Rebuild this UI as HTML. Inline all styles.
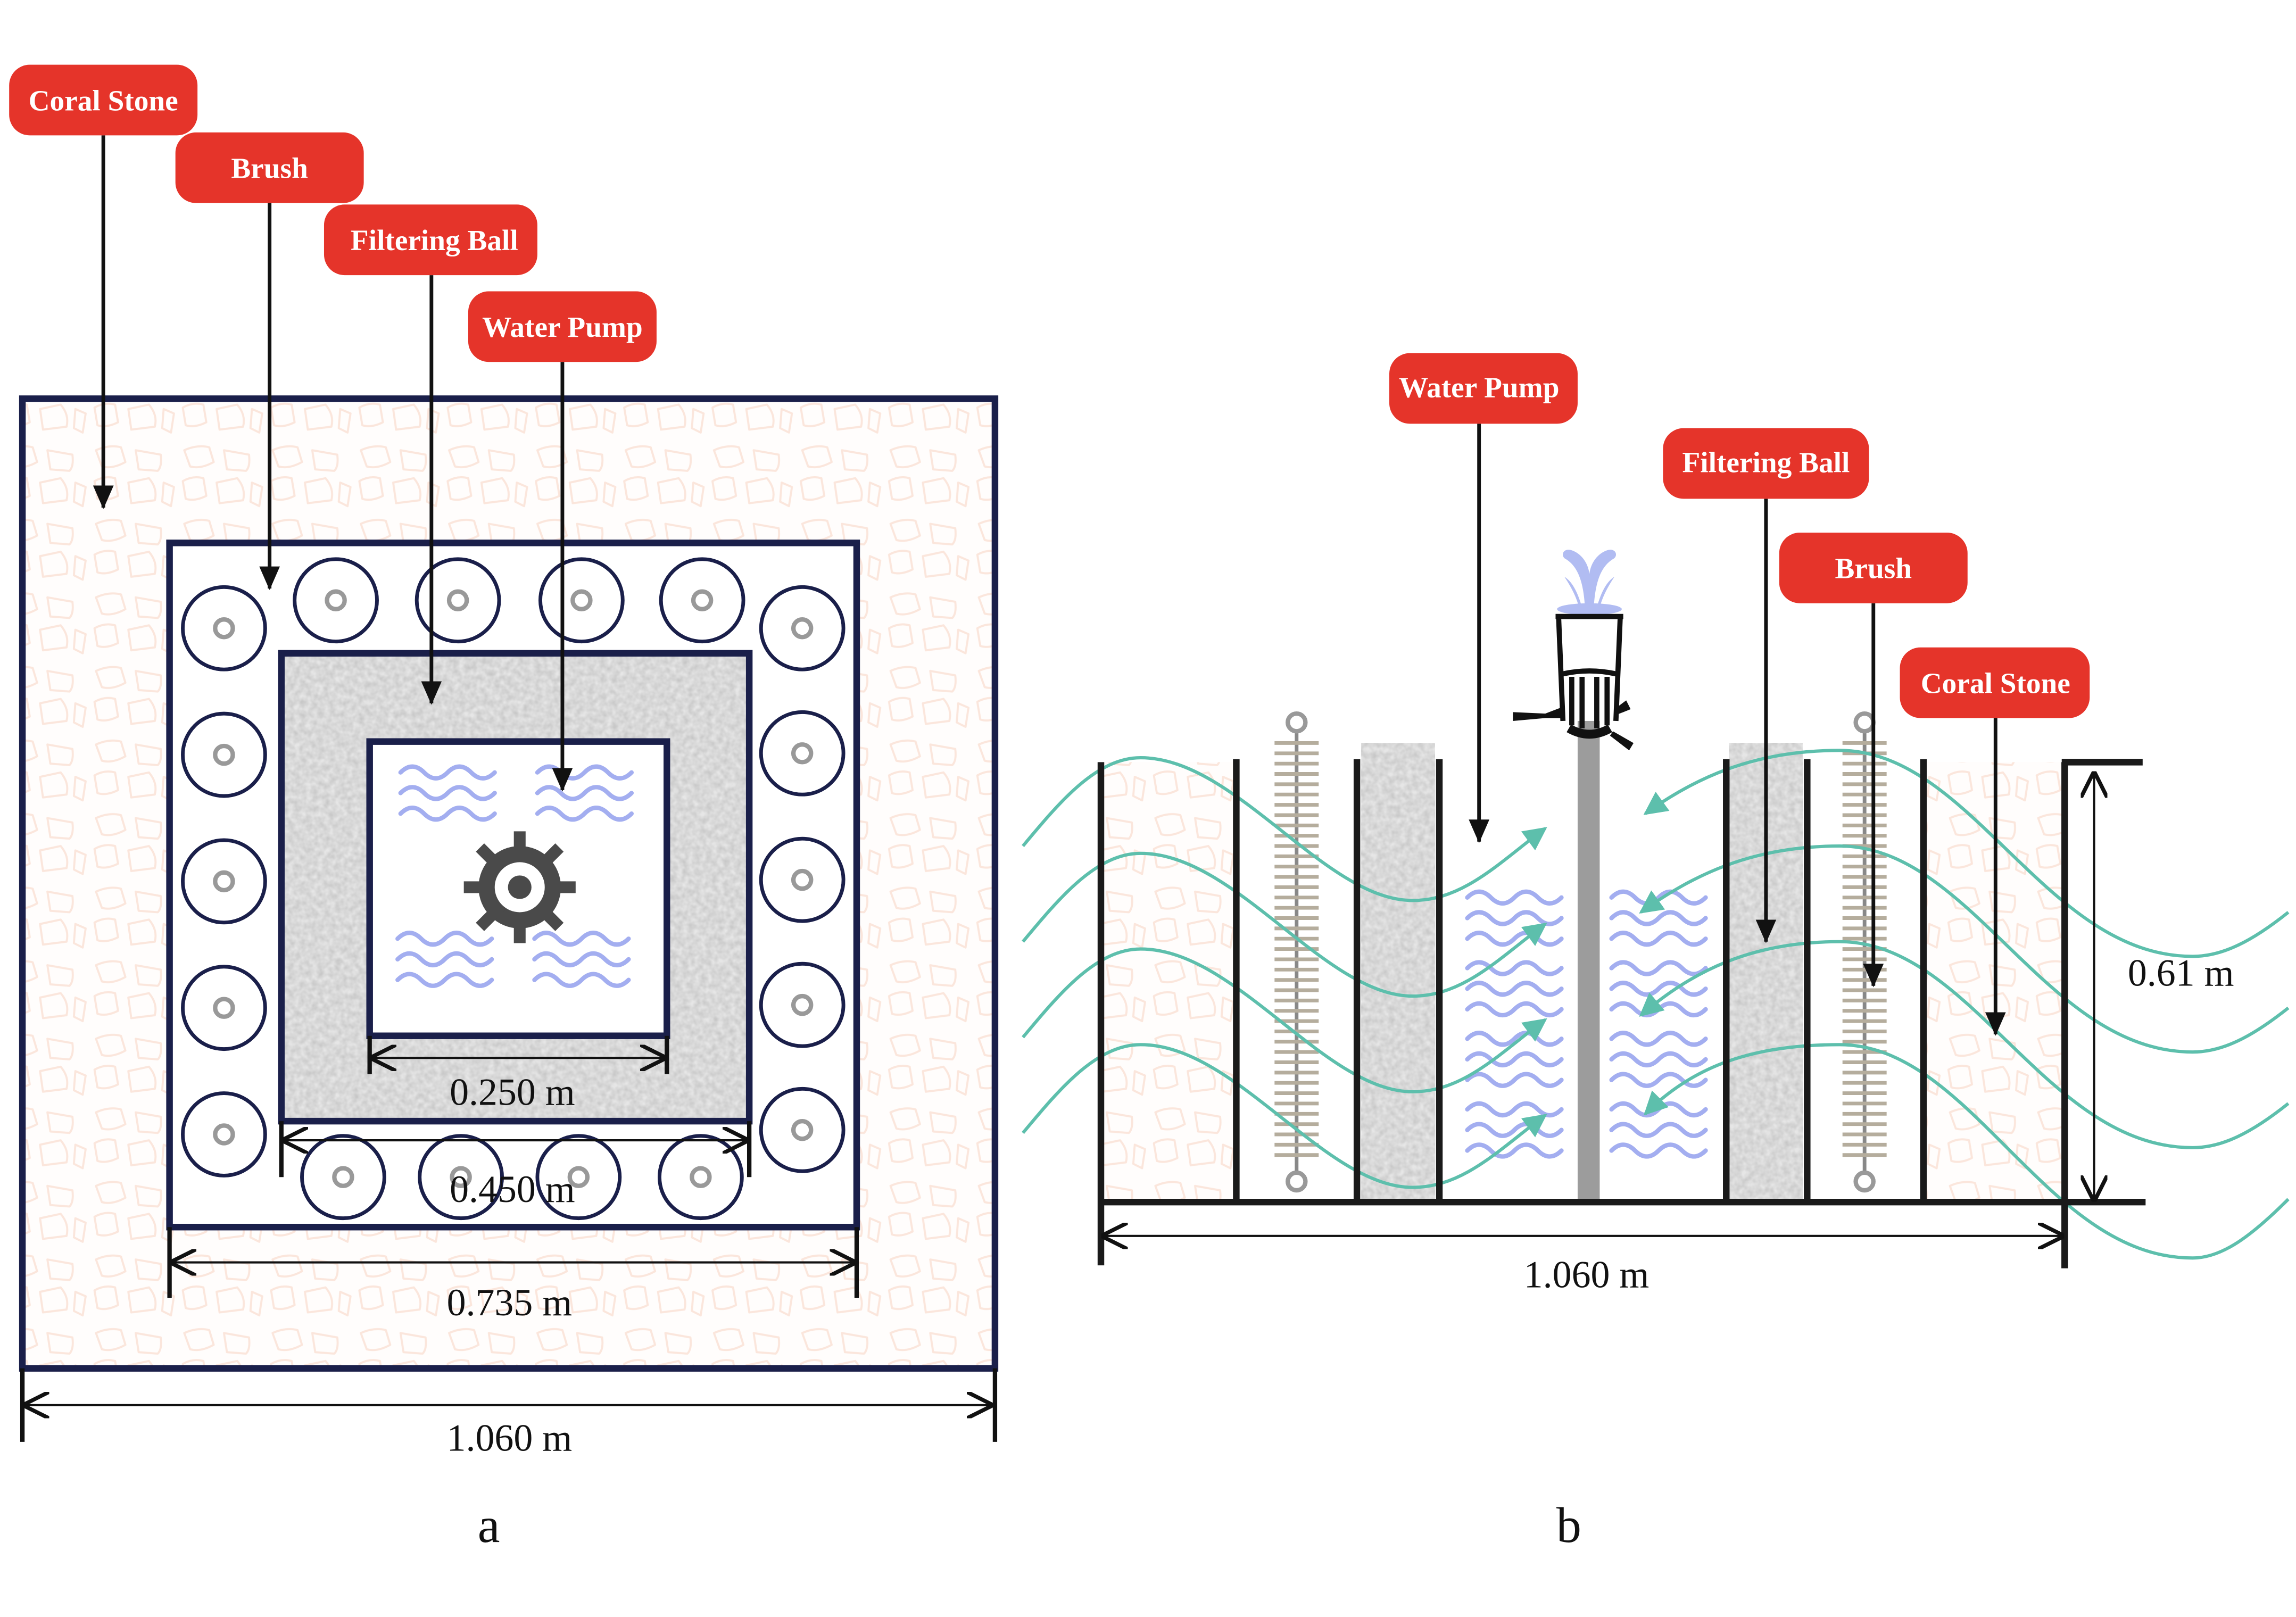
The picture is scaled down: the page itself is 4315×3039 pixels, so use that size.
<!DOCTYPE html>
<html><head><style>html,body{margin:0;padding:0;background:#fff}svg{display:block}</style></head>
<body>
<svg width="4315" height="3039" viewBox="0 0 1560 1099" xmlns="http://www.w3.org/2000/svg" font-family="'Liberation Serif',serif">
<defs>
<filter id="noise" x="0" y="0" width="100%" height="100%">
<feTurbulence type="fractalNoise" baseFrequency="0.25" numOctaves="2" seed="3"/>
<feColorMatrix type="matrix" values="0 0 0 0 0.55  0 0 0 0 0.55  0 0 0 0 0.55  0 0 0 -1.3 1.05"/>
</filter>
<pattern id="peb" width="60" height="50" patternUnits="userSpaceOnUse">
<rect width="60" height="50" fill="#fffdfc"/>
<g fill="none" stroke="#fbe6dc" stroke-width="1.4" stroke-linejoin="round">
<path d="M5 6 Q14 2 22 4 L25 14 Q16 19 9 17 Z"/><path d="M32 6 L49 9 Q50 17 47 20 L34 19 Z"/>
<path d="M4 27 Q11 23 18 25 L20 37 Q12 41 6 39 Z"/><path d="M27 28 L41 25 Q47 32 45 40 L29 42 Z"/>
<path d="M51 28 L58 31 L56 44 L50 41 Z"/>
</g></pattern>
<marker id="ah" viewBox="0 0 16 14" markerWidth="16" markerHeight="14" refX="15" refY="7" orient="auto" markerUnits="userSpaceOnUse"><path d="M0 0 L16 7 L0 14 Z" fill="#111"/></marker>
<marker id="gh" viewBox="0 0 10 10" refX="9" refY="5" markerWidth="16" markerHeight="16" markerUnits="userSpaceOnUse" orient="auto"><path d="M0 0 L10 5 L0 10 Z" fill="#5dbfac"/></marker>
<marker id="da" viewBox="0 0 10 10" refX="9" refY="5" markerWidth="18" markerHeight="18" markerUnits="userSpaceOnUse" orient="auto-start-reverse"><path d="M0 0 L10 5 L0 10" fill="none" stroke="#111" stroke-width="1.5"/></marker>
<g id="wv" fill="none" stroke="#a3aef0" stroke-width="3" stroke-linecap="round">
<path d="M0 0 q8 -8 16 0 t16 0 t16 0 t16 0"/><path d="M0 14 q8 -8 16 0 t16 0 t16 0 t16 0"/><path d="M0 28 q8 -8 16 0 t16 0 t16 0 t16 0"/>
</g>
<g id="cir"><circle r="28" fill="#fff" stroke="#1a1f4a" stroke-width="2.5"/><circle r="6" fill="none" stroke="#999" stroke-width="3"/></g>
</defs>
<rect width="1560" height="1099" fill="#fff"/>

<!-- Panel a -->
<rect x="15" y="271" width="661" height="659" fill="url(#peb)" stroke="#1a1f4a" stroke-width="4.5"/>
<rect x="115" y="369" width="467" height="465" fill="#fff" stroke="#1a1f4a" stroke-width="4.5"/>
<rect x="191" y="444" width="318" height="318" fill="#e6e6e6"/>
<rect x="191" y="444" width="318" height="318" filter="url(#noise)"/>
<rect x="191" y="444" width="318" height="318" fill="none" stroke="#1a1f4a" stroke-width="4.5"/>
<rect x="251" y="504" width="202" height="200" fill="#fff" stroke="#1a1f4a" stroke-width="4.5"/>
<use href="#wv" x="272" y="525"/><use href="#wv" x="365" y="525"/>
<use href="#wv" x="270" y="638"/><use href="#wv" x="363" y="638"/>
<g transform="translate(353,603)" fill="#4a4a4a">
<circle r="28"/><g stroke="#4a4a4a" stroke-width="8">
<line x1="0" y1="-38" x2="0" y2="38"/><line x1="-38" y1="0" x2="38" y2="0"/>
<line x1="-27" y1="-27" x2="27" y2="27"/><line x1="-27" y1="27" x2="27" y2="-27"/></g>
<circle r="17" fill="#fff"/><circle r="8"/></g>
<use href="#cir" x="228" y="408"/><use href="#cir" x="311" y="408"/><use href="#cir" x="395" y="408"/><use href="#cir" x="477" y="408"/>
<use href="#cir" x="152" y="427"/><use href="#cir" x="152" y="513"/><use href="#cir" x="152" y="599"/><use href="#cir" x="152" y="685"/><use href="#cir" x="152" y="771"/>
<use href="#cir" x="545" y="427"/><use href="#cir" x="545" y="512"/><use href="#cir" x="545" y="598"/><use href="#cir" x="545" y="683"/><use href="#cir" x="545" y="768"/>
<use href="#cir" x="233" y="800"/><use href="#cir" x="313" y="800"/><use href="#cir" x="393" y="800"/><use href="#cir" x="476" y="800"/>

<g stroke="#111" stroke-width="1.5">
<line x1="253" y1="719" x2="451" y2="719" marker-start="url(#da)" marker-end="url(#da)"/>
<line x1="193" y1="775" x2="507" y2="775" marker-start="url(#da)" marker-end="url(#da)"/>
<line x1="117" y1="858" x2="580" y2="858" marker-start="url(#da)" marker-end="url(#da)"/>
<line x1="17" y1="955" x2="673" y2="955" marker-start="url(#da)" marker-end="url(#da)"/>
</g>
<g stroke="#111" stroke-width="3">
<line x1="251" y1="704" x2="251" y2="730"/><line x1="453" y1="704" x2="453" y2="730"/>
<line x1="191" y1="762" x2="191" y2="800"/><line x1="509" y1="762" x2="509" y2="800"/>
<line x1="115" y1="834" x2="115" y2="882"/><line x1="582" y1="834" x2="582" y2="882"/>
<line x1="15" y1="930" x2="15" y2="980"/><line x1="676" y1="930" x2="676" y2="980"/>
</g>
<g font-size="26" fill="#111" text-anchor="middle">
<text x="348" y="751">0.250 m</text><text x="348" y="817">0.450 m</text>
<text x="346" y="894">0.735 m</text><text x="346" y="986">1.060 m</text>
<text x="332" y="1048" font-size="34">a</text><text x="1066" y="1048" font-size="34">b</text>
<text x="1482" y="670">0.61 m</text><text x="1078" y="875">1.060 m</text>
</g>

<!-- Panel b -->
<rect x="750" y="518" width="90" height="298" fill="url(#peb)"/>
<rect x="1307" y="518" width="96" height="298" fill="url(#peb)"/>
<rect x="925" y="505" width="50" height="310" fill="#e6e6e6"/><rect x="925" y="505" width="50" height="310" filter="url(#noise)"/>
<rect x="1175" y="505" width="50" height="310" fill="#e6e6e6"/><rect x="1175" y="505" width="50" height="310" filter="url(#noise)"/>
<rect x="1072" y="490" width="15" height="327" fill="#9c9c9c"/>
<use href="#wv" x="997" y="610"/><use href="#wv" x="997" y="658"/><use href="#wv" x="997" y="706"/><use href="#wv" x="997" y="754"/>
<use href="#wv" x="1095" y="610"/><use href="#wv" x="1095" y="658"/><use href="#wv" x="1095" y="706"/><use href="#wv" x="1095" y="754"/>
<!-- brushes -->
<g stroke="#b5ad9d" stroke-width="2.5">
<path d="M881 498 V796" stroke="#888"/>
<path d="M866 505 h30 M866 512 h30 M866 519 h30 M866 526 h30 M866 533 h30 M866 540 h30 M866 547 h30 M866 554 h30 M866 561 h30 M866 568 h30 M866 575 h30 M866 582 h30 M866 589 h30 M866 596 h30 M866 603 h30 M866 610 h30 M866 617 h30 M866 624 h30 M866 631 h30 M866 638 h30 M866 645 h30 M866 652 h30 M866 659 h30 M866 666 h30 M866 673 h30 M866 680 h30 M866 687 h30 M866 694 h30 M866 701 h30 M866 708 h30 M866 715 h30 M866 722 h30 M866 729 h30 M866 736 h30 M866 743 h30 M866 750 h30 M866 757 h30 M866 764 h30 M866 771 h30 M866 778 h30 M866 785 h30"/>
<path d="M1267 498 V796" stroke="#888"/>
<path d="M1252 505 h30 M1252 512 h30 M1252 519 h30 M1252 526 h30 M1252 533 h30 M1252 540 h30 M1252 547 h30 M1252 554 h30 M1252 561 h30 M1252 568 h30 M1252 575 h30 M1252 582 h30 M1252 589 h30 M1252 596 h30 M1252 603 h30 M1252 610 h30 M1252 617 h30 M1252 624 h30 M1252 631 h30 M1252 638 h30 M1252 645 h30 M1252 652 h30 M1252 659 h30 M1252 666 h30 M1252 673 h30 M1252 680 h30 M1252 687 h30 M1252 694 h30 M1252 701 h30 M1252 708 h30 M1252 715 h30 M1252 722 h30 M1252 729 h30 M1252 736 h30 M1252 743 h30 M1252 750 h30 M1252 757 h30 M1252 764 h30 M1252 771 h30 M1252 778 h30 M1252 785 h30"/>
</g>
<g fill="#fff" stroke="#999" stroke-width="3">
<circle cx="881" cy="491" r="6"/><circle cx="881" cy="803" r="6"/><circle cx="1267" cy="491" r="6"/><circle cx="1267" cy="803" r="6"/>
</g>
<!-- pump -->
<g fill="#b1bcf2">
<path d="M1077 413 C1076 395 1072 385 1064 380 C1060 378 1062 372 1068 374 C1074 376 1079 382 1080 390 C1081 382 1086 376 1092 374 C1098 372 1100 378 1096 380 C1088 385 1084 395 1083 413 Z"/>
<path d="M1075 413 C1072 402 1068 395 1063 392 C1067 398 1071 405 1073 413 Z"/>
<path d="M1085 413 C1088 402 1092 395 1097 392 C1093 398 1089 405 1087 413 Z"/>
<ellipse cx="1080" cy="414" rx="22" ry="4"/>
</g>
<g stroke="#111" fill="none" stroke-width="3.5">
<path d="M1059 418 L1062 490 M1101 418 L1098 490 M1057 419 H1103"/>
<path d="M1062 458 Q1080 454 1098 458 M1068 460 V493 M1075 460 V495 M1085 460 V495 M1092 460 V493"/>
<path d="M1066 495 Q1080 503 1094 495" stroke-width="6"/>
</g>
<path d="M1028 484 L1050 485 L1063 480 L1062 488 L1050 488 L1028 490 Z" fill="#111"/>
<path d="M1097 482 L1105 476 L1108 482 L1098 486 Z" fill="#111"/>
<path d="M1096 497 L1110 505 L1107 510 L1094 500 Z" fill="#111"/>
<!-- green flow lines -->
<g fill="none" stroke="#5dbfac" stroke-width="2.2">
<path d="M695 575 C720 545 745 515 775 515 C840 515 900 612 960 612 C995 612 1020 585 1050 563" marker-end="url(#gh)"/>
<path d="M695 640 C720 610 745 580 775 580 C840 580 900 677 960 677 C995 677 1020 650 1050 628" marker-end="url(#gh)"/>
<path d="M695 705 C720 675 745 645 775 645 C840 645 900 742 960 742 C995 742 1020 715 1050 693" marker-end="url(#gh)"/>
<path d="M695 770 C720 740 745 710 775 710 C840 710 900 807 960 807 C995 807 1020 780 1050 758" marker-end="url(#gh)"/>
<path d="M1555 620 C1530 640 1510 650 1490 650 C1390 650 1340 510 1250 510 C1190 510 1150 530 1118 553" marker-end="url(#gh)"/>
<path d="M1555 685 C1530 705 1510 715 1490 715 C1390 715 1340 575 1250 575 C1190 575 1150 595 1115 620" marker-end="url(#gh)"/>
<path d="M1555 750 C1530 770 1510 780 1490 780 C1390 780 1340 640 1250 640 C1190 640 1150 660 1115 690" marker-end="url(#gh)"/>
<path d="M1555 815 C1530 840 1510 855 1490 855 C1390 855 1340 710 1250 710 C1190 710 1150 725 1118 757" marker-end="url(#gh)"/>
</g>
<!-- walls -->
<g stroke="#1a1a1a" stroke-width="4.5">
<line x1="748" y1="518" x2="748" y2="860"/><line x1="840" y1="516" x2="840" y2="817"/>
<line x1="922" y1="516" x2="922" y2="817"/><line x1="978" y1="516" x2="978" y2="817"/>
<line x1="1173" y1="516" x2="1173" y2="817"/><line x1="1228" y1="516" x2="1228" y2="817"/>
<line x1="1307" y1="516" x2="1307" y2="817"/>
<line x1="1403" y1="518" x2="1403" y2="862"/><line x1="1401" y1="518" x2="1456" y2="518"/>
<line x1="746" y1="817" x2="1458" y2="817"/>
</g>
<g stroke="#111" stroke-width="1.5">
<line x1="1423" y1="526" x2="1423" y2="815" marker-start="url(#da)" marker-end="url(#da)"/>
<line x1="750" y1="840" x2="1401" y2="840" marker-start="url(#da)" marker-end="url(#da)"/>
</g>

<!-- arrows -->
<g stroke="#111" stroke-width="2.5">
<line x1="70" y1="92" x2="70" y2="345" marker-end="url(#ah)"/>
<line x1="183" y1="138" x2="183" y2="400" marker-end="url(#ah)"/>
<line x1="293" y1="187" x2="293" y2="478" marker-end="url(#ah)"/>
<line x1="382" y1="246" x2="382" y2="537" marker-end="url(#ah)"/>
<line x1="1005" y1="288" x2="1005" y2="572" marker-end="url(#ah)"/>
<line x1="1200" y1="339" x2="1200" y2="640" marker-end="url(#ah)"/>
<line x1="1273" y1="410" x2="1273" y2="670" marker-end="url(#ah)"/>
<line x1="1356" y1="488" x2="1356" y2="703" marker-end="url(#ah)"/>
</g>
<!-- labels -->
<g fill="#e5342a">
<rect x="6" y="44" width="128" height="48" rx="14"/><rect x="119" y="90" width="128" height="48" rx="14"/>
<rect x="220" y="139" width="145" height="48" rx="14"/><rect x="318" y="198" width="128" height="48" rx="14"/>
<rect x="944" y="240" width="128" height="48" rx="14"/><rect x="1130" y="291" width="140" height="48" rx="14"/>
<rect x="1209" y="362" width="128" height="48" rx="14"/><rect x="1291" y="440" width="129" height="48" rx="14"/>
</g>
<g fill="#fff" font-size="20" font-weight="bold" text-anchor="middle">
<text x="70" y="75">Coral Stone</text><text x="183" y="121">Brush</text>
<text x="295" y="170">Filtering Ball</text><text x="382" y="229">Water Pump</text>
<text x="1005" y="270">Water Pump</text><text x="1200" y="321">Filtering Ball</text>
<text x="1273" y="393">Brush</text><text x="1356" y="471">Coral Stone</text>
</g>
</svg>
</body></html>
